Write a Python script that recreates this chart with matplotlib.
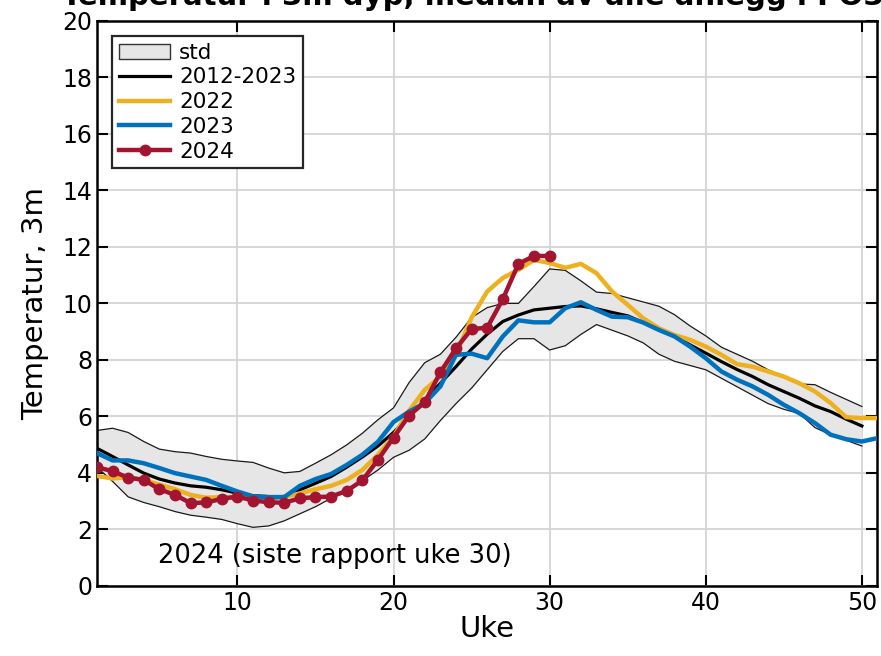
import numpy as np
import matplotlib
matplotlib.use("Agg")
import matplotlib.pyplot as plt

weeks = np.arange(1, 52)

# 2012-2023 median, weeks 1-50
mean_all = [4.87, 4.58, 4.28, 3.99, 3.78, 3.64, 3.54, 3.49, 3.40, 3.28,
            3.19, 3.16, 3.16, 3.40, 3.63, 3.87, 4.20, 4.56, 4.95, 5.43,
            5.99, 6.58, 7.17, 7.76, 8.38, 8.91, 9.36, 9.59, 9.77, 9.83,
            9.89, 9.91, 9.81, 9.68, 9.56, 9.32, 9.06, 8.83, 8.53, 8.24,
            7.94, 7.66, 7.41, 7.12, 6.88, 6.64, 6.37, 6.17, 5.90, 5.66]
std_upper = [5.50, 5.58, 5.43, 5.11, 4.84, 4.75, 4.70, 4.58, 4.48, 4.42,
             4.37, 4.17, 4.00, 4.05, 4.34, 4.64, 4.99, 5.40, 5.88, 6.30,
             7.20, 7.90, 8.20, 8.80, 9.50, 9.85, 10.00, 10.00, 10.60, 11.22,
             11.17, 10.80, 10.40, 10.35, 10.20, 10.05, 9.90, 9.60, 9.20, 8.85,
             8.45, 8.20, 7.95, 7.65, 7.40, 7.15, 7.12, 6.85, 6.60, 6.35]
std_lower = [4.20, 3.70, 3.15, 2.95, 2.80, 2.63, 2.50, 2.43, 2.35, 2.20,
             2.07, 2.12, 2.30, 2.55, 2.80, 3.10, 3.40, 3.72, 4.10, 4.55,
             4.80, 5.20, 5.85, 6.45, 7.00, 7.65, 8.30, 8.75, 8.75, 8.35,
             8.50, 8.90, 9.25, 9.05, 8.85, 8.60, 8.20, 7.95, 7.80, 7.65,
             7.35, 7.05, 6.75, 6.45, 6.25, 6.10, 5.60, 5.35, 5.15, 4.95]
y2022 = [3.89, 3.80, 3.85, 3.75, 3.58, 3.42, 3.22, 3.12, 3.14, 3.14,
         3.10, 3.08, 3.15, 3.27, 3.42, 3.54, 3.75, 4.10, 4.64, 5.29,
         6.20, 6.94, 7.41, 8.18, 9.50, 10.42, 10.90, 11.19, 11.54, 11.43,
         11.26, 11.40, 11.07, 10.42, 9.95, 9.47, 9.12, 8.88, 8.71, 8.47,
         8.18, 7.85, 7.76, 7.59, 7.41, 7.17, 6.88, 6.47, 5.97, 5.94, 5.94]
y2023 = [4.70, 4.44, 4.44, 4.34, 4.17, 3.99, 3.87, 3.75, 3.54, 3.34,
         3.17, 3.14, 3.14, 3.54, 3.78, 3.96, 4.28, 4.64, 5.10, 5.80,
         6.17, 6.47, 7.06, 8.18, 8.22, 8.06, 8.83, 9.40, 9.33, 9.33,
         9.83, 10.04, 9.77, 9.53, 9.51, 9.32, 9.06, 8.83, 8.47, 8.06,
         7.59, 7.30, 7.06, 6.76, 6.41, 6.11, 5.76, 5.35, 5.19, 5.11, 5.23]
y2024 = [4.20, 4.06, 3.83, 3.75, 3.42, 3.22, 2.93, 2.95, 3.08, 3.16,
         3.02, 2.96, 2.94, 3.10, 3.14, 3.16, 3.36, 3.73, 4.46, 5.25,
         6.03, 6.50, 7.56, 8.41, 9.09, 9.14, 10.15, 11.40, 11.68, 11.68]

fig = plt.figure(figsize=(8.81, 6.56), dpi=100)
ax = fig.add_axes([0.110, 0.107, 0.886, 0.861])

w50 = weeks[:50]
ax.fill_between(w50, std_lower, std_upper, facecolor='#e6e6e6',
                edgecolor='none', label='std', zorder=1)
ax.plot(w50, std_upper, color='#1a1a1a', lw=0.9, zorder=2)
ax.plot(w50, std_lower, color='#1a1a1a', lw=0.9, zorder=2)
ax.plot(w50, mean_all, color='black', lw=2.3, label='2012-2023', zorder=3)
ax.plot(weeks, y2022, color='#EDB120', lw=3.2, label='2022', zorder=4)
ax.plot(weeks, y2023, color='#0072BD', lw=3.2, label='2023', zorder=5)
ax.plot(weeks[:30], y2024, color='#A2142F', lw=3.2, marker='o', ms=7.5,
        label='2024', zorder=6)

ax.text(4.9, 1.05, '2024 (siste rapport uke 30)', fontsize=18.5, va='center')

ax.set_xlim(1, 51)
ax.set_ylim(0, 20)
ax.set_xticks(range(10, 51, 10))
ax.set_yticks(range(0, 21, 2))
ax.tick_params(direction='in', length=8, width=1.5, labelsize=17,
               top=True, right=True)
ax.grid(color='#d4d4d4', lw=1.3)
ax.set_axisbelow(True)
for s in ax.spines.values():
    s.set_linewidth(1.8)

ax.set_xlabel('Uke', fontsize=21, labelpad=0)
ax.set_ylabel('Temperatur, 3m', fontsize=21, labelpad=9)

leg = ax.legend(loc='upper left', fontsize=15.5, fancybox=False,
                framealpha=1, edgecolor='#262626', borderpad=0.3,
                handlelength=2.4, labelspacing=0.22, handletextpad=0.4,
                bbox_to_anchor=(0.006, 0.992))
leg.get_frame().set_linewidth(1.6)
leg.legend_handles[0].set_edgecolor('#333333')
leg.legend_handles[0].set_linewidth(1.0)

fig.text(62 / 881, 0.993, 'Temperatur i 3m dyp, median av alle anlegg i PO3',
         fontsize=21, fontweight='bold', ha='left', va='baseline')

fig.savefig('out.png', dpi=100)
